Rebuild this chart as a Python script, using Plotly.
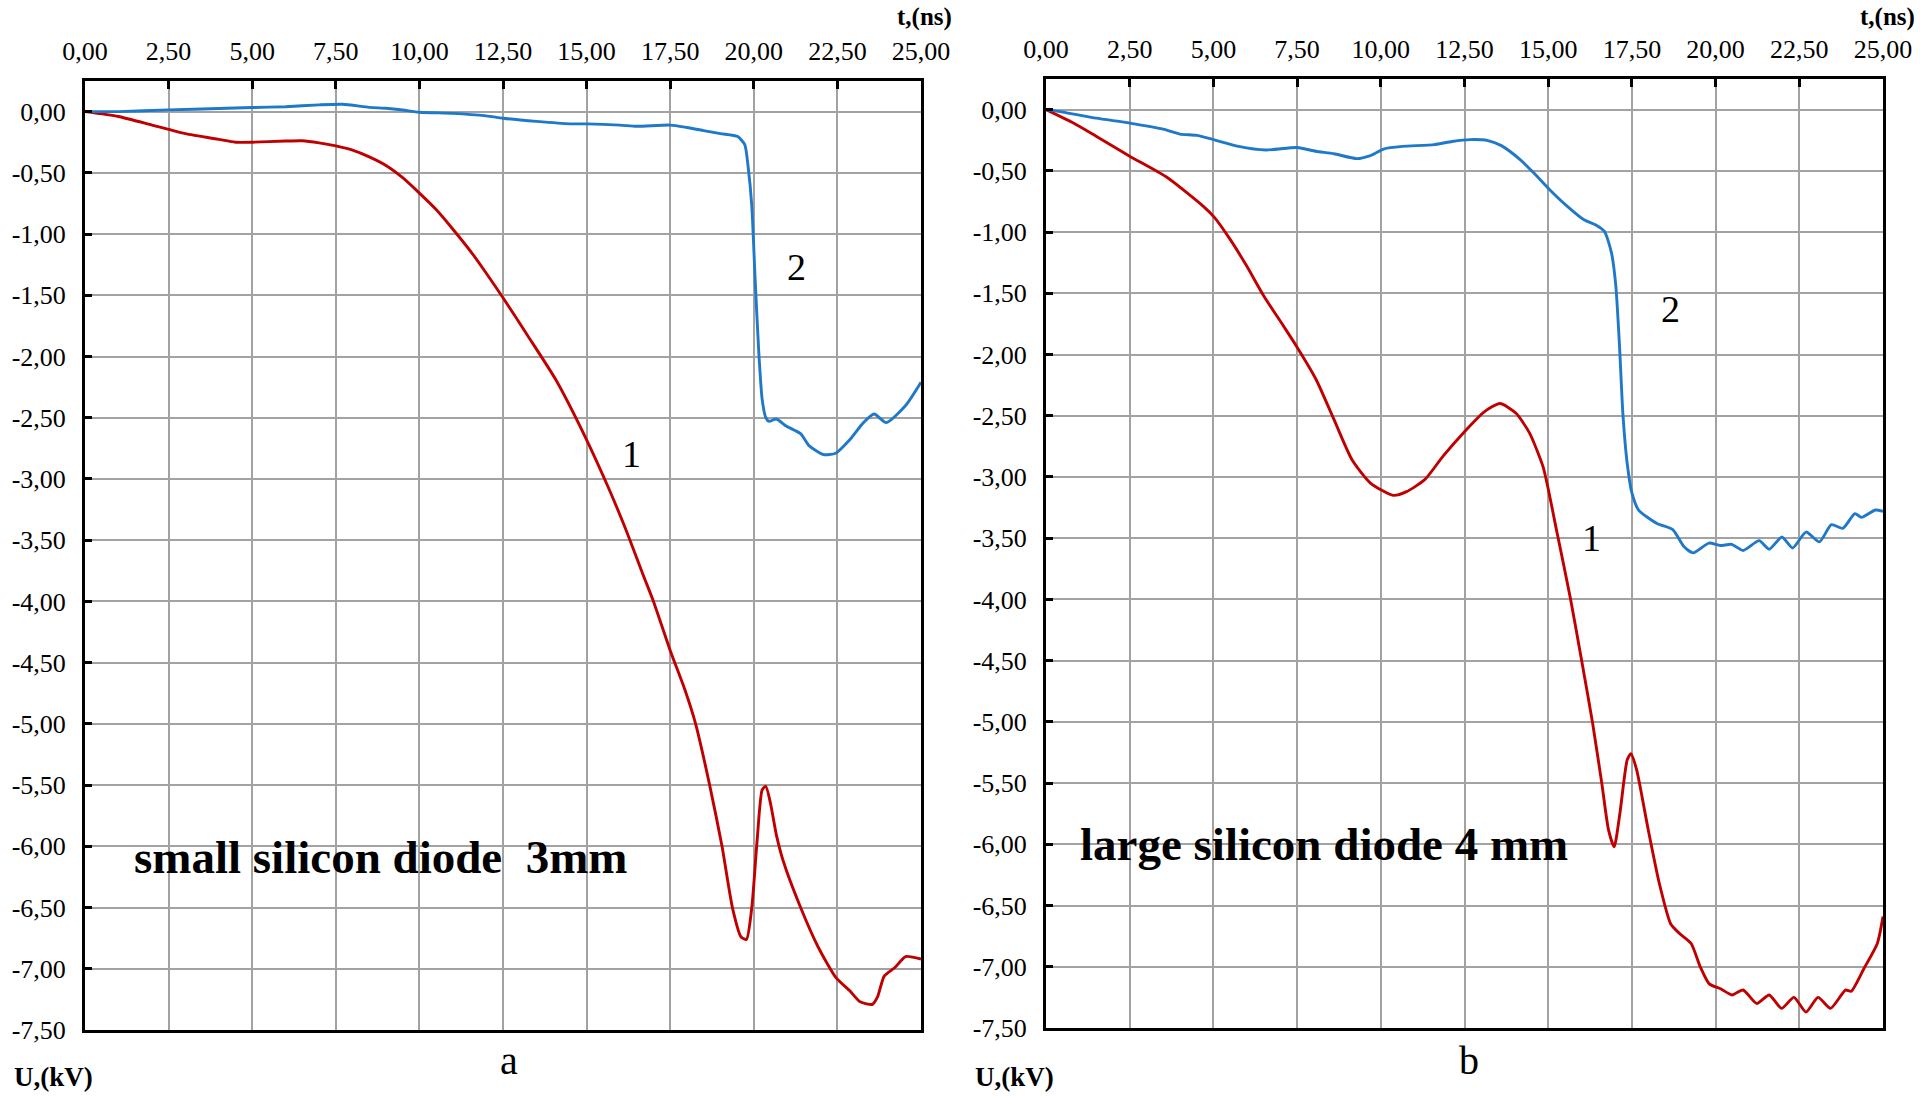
import plotly.graph_objects as go

# ---- time ticks (ns) and voltage ticks (kV) ----
t_ticks = [0, 2.5, 5, 7.5, 10, 12.5, 15, 17.5, 20, 22.5, 25]
t_labels = ["0,00", "2,50", "5,00", "7,50", "10,00", "12,50", "15,00",
            "17,50", "20,00", "22,50", "25,00"]
u_ticks = [0, -0.5, -1, -1.5, -2, -2.5, -3, -3.5, -4, -4.5, -5, -5.5,
           -6, -6.5, -7, -7.5]
u_labels = ["0,00", "-0,50", "-1,00", "-1,50", "-2,00", "-2,50", "-3,00",
            "-3,50", "-4,00", "-4,50", "-5,00", "-5,50", "-6,00", "-6,50",
            "-7,00", "-7,50"]

# ---- (a) small silicon diode 3 mm ----
t_a_1 = [0, 1, 2, 2.5, 3, 4, 4.5, 5, 6, 6.5, 7, 7.5, 8, 8.5, 9, 9.5, 10,
         10.5, 10.94, 11.57, 12, 12.5, 13.24, 14.08, 15, 15.65, 16.17, 16.7,
         17.0, 17.5, 17.95, 18.26, 18.68, 19.05, 19.36, 19.62, 19.78, 19.94,
         20.1, 20.25, 20.36, 20.5, 20.67, 20.88, 21.4, 21.92, 22.45, 22.87,
         23.18, 23.55, 23.7, 23.9, 24.22, 24.54, 25]
u_a_1 = [0, -0.04, -0.11, -0.145, -0.18, -0.227, -0.25, -0.25, -0.24,
         -0.238, -0.255, -0.28, -0.315, -0.37, -0.44, -0.54, -0.666, -0.80,
         -0.94, -1.155, -1.32, -1.52, -1.83, -2.19, -2.68, -3.07, -3.41,
         -3.79, -4.0, -4.4, -4.73, -5.0, -5.5, -6.0, -6.5, -6.74, -6.76,
         -6.5, -5.95, -5.54, -5.51, -5.65, -5.9, -6.12, -6.5, -6.82, -7.07,
         -7.18, -7.27, -7.29, -7.23, -7.06, -6.99, -6.9, -6.92]

t_a_2 = [0, 1, 2.5, 4, 5, 6, 7, 7.7, 8.5, 9, 9.5, 10, 11, 12, 12.5, 13.5,
         14.5, 15, 16, 16.5, 17.5, 18, 18.5, 19, 19.52, 19.73, 19.83, 19.94,
         20.04, 20.15, 20.25, 20.36, 20.46, 20.67, 20.98, 21.4, 21.66,
         22.08, 22.45, 22.87, 23.28, 23.6, 23.96, 24.54, 25]
u_a_2 = [0, 0, 0.014, 0.025, 0.033, 0.04, 0.055, 0.06, 0.035, 0.027,
         0.013, -0.005, -0.014, -0.035, -0.054, -0.08, -0.10, -0.10, -0.11,
         -0.12, -0.11, -0.13, -0.155, -0.18, -0.204, -0.27, -0.45, -0.77,
         -1.37, -1.97, -2.35, -2.5, -2.53, -2.51, -2.57, -2.63, -2.73, -2.80,
         -2.79, -2.68, -2.54, -2.47, -2.54, -2.40, -2.21]

# ---- (b) large silicon diode 4 mm ----
t_b_1 = [0, 0.82, 1.51, 2.5, 3.6, 4.7, 5.03, 5.5, 6.0, 6.5, 7.1, 7.5, 8.06,
         8.6, 9.14, 9.69, 10.37, 10.77, 11.32, 11.86, 12.5, 13.08, 13.56,
         14.04, 14.44, 14.85, 15.26, 15.67, 16.0, 16.32, 16.6, 16.8, 16.97,
         17.14, 17.36, 17.47, 17.64, 17.98, 18.32, 18.66, 18.93, 19.27,
         19.54, 19.81, 20.15, 20.49, 20.82, 21.23, 21.6, 21.97, 22.34, 22.7,
         23.06, 23.43, 23.88, 24.05, 24.42, 24.83, 25]
u_b_1 = [0, -0.11, -0.22, -0.38, -0.55, -0.79, -0.88, -1.06, -1.28, -1.52,
         -1.77, -1.94, -2.2, -2.53, -2.86, -3.05, -3.15, -3.12, -3.02, -2.83,
         -2.63, -2.47, -2.40, -2.48, -2.64, -2.92, -3.45, -4.0, -4.5, -5.0,
         -5.5, -5.88, -6.02, -5.75, -5.31, -5.26, -5.39, -5.87, -6.32, -6.65,
         -6.73, -6.81, -7.0, -7.14, -7.18, -7.23, -7.19, -7.30, -7.23, -7.34,
         -7.25, -7.37, -7.25, -7.34, -7.19, -7.20, -7.02, -6.81, -6.59]

t_b_2 = [0, 0.5, 1.5, 2.5, 3.5, 4, 4.5, 5, 5.75, 6.56, 7.5, 8.06, 8.6, 9.28,
         9.69, 10.1, 10.64, 11.6, 12.13, 12.67, 13.2, 13.6, 14.17, 14.58,
         15.03, 15.53, 16.07, 16.41, 16.68, 16.89, 17.02, 17.13, 17.23,
         17.36, 17.5, 17.7, 18.25, 18.72, 19.06, 19.33, 19.8, 20.14, 20.48,
         20.82, 21.3, 21.6, 21.98, 22.3, 22.7, 23.1, 23.46, 23.8, 24.16,
         24.36, 24.77, 25]
u_b_2 = [0, -0.02, -0.07, -0.11, -0.16, -0.20, -0.21, -0.245, -0.30, -0.33,
         -0.31, -0.34, -0.36, -0.40, -0.375, -0.32, -0.30, -0.286, -0.26,
         -0.245, -0.253, -0.294, -0.41, -0.52, -0.65, -0.78, -0.90, -0.94,
         -0.995, -1.17, -1.44, -1.93, -2.48, -2.89, -3.13, -3.27, -3.38,
         -3.43, -3.57, -3.62, -3.54, -3.56, -3.55, -3.60, -3.52, -3.59,
         -3.49, -3.58, -3.45, -3.53, -3.39, -3.42, -3.30, -3.33, -3.27, -3.28]

RED = "#C00000"
BLUE = "#1F78C8"
SERIF = "Liberation Serif, Times New Roman, serif"
W, H = 1920, 1096

fig = go.Figure()


def curve(t, u, color, xa, ya):
    fig.add_trace(go.Scatter(
        x=t, y=u, mode="lines", xaxis=xa, yaxis=ya, showlegend=False,
        line=dict(color=color, width=2.9, shape="spline", smoothing=0.6),
        hoverinfo="skip"))


curve(t_a_1, u_a_1, RED, "x", "y")
curve(t_a_2, u_a_2, BLUE, "x", "y")
curve(t_b_1, u_b_1, RED, "x2", "y2")
curve(t_b_2, u_b_2, BLUE, "x2", "y2")


def xaxis(domain, anchor):
    return dict(domain=domain, anchor=anchor, side="top", range=[0, 25],
                tickvals=t_ticks, ticktext=t_labels,
                tickfont=dict(family=SERIF, size=26, color="black"),
                ticks="inside", ticklen=8, tickwidth=3, tickcolor="black",
                ticklabelstandoff=8, automargin=False,
                showline=True, linecolor="black", linewidth=3, mirror=True,
                showgrid=True, gridcolor="#A2A2A2", gridwidth=1.6,
                zeroline=False, fixedrange=True)


def yaxis(domain, anchor):
    return dict(domain=domain, anchor=anchor, side="left",
                range=[-7.5, 0.25],
                tickvals=u_ticks, ticktext=u_labels,
                tickfont=dict(family=SERIF, size=26, color="black"),
                ticks="inside", ticklen=7, tickwidth=3, tickcolor="black",
                ticklabelstandoff=11, automargin=False,
                showline=True, linecolor="black", linewidth=3, mirror=True,
                showgrid=True, gridcolor="#A2A2A2", gridwidth=1.6,
                zeroline=False, fixedrange=True)


ann = []


def paper_text(text, x, y, size, bold=False, xanchor="center"):
    ann.append(dict(
        text=f"<b>{text}</b>" if bold else text,
        x=x / W, y=1 - y / H, xref="paper", yref="paper",
        xanchor=xanchor, yanchor="middle", showarrow=False,
        font=dict(family=SERIF, size=size, color="black")))


def data_text(text, x, y, xr, yr, size, bold=False):
    ann.append(dict(
        text=f"<b>{text}</b>" if bold else text,
        x=x, y=y, xref=xr, yref=yr, showarrow=False,
        xanchor="center", yanchor="middle",
        font=dict(family=SERIF, size=size, color="black")))


# axis titles
paper_text("t,(ns)", 954, 17, 25, bold=True, xanchor="right")
paper_text("t,(ns)", 1917, 17, 25, bold=True, xanchor="right")
paper_text("U,(kV)", 12, 1077, 27, bold=True, xanchor="left")
paper_text("U,(kV)", 973, 1077, 27, bold=True, xanchor="left")

# panel letters
paper_text("a", 509, 1060, 40)
paper_text("b", 1469, 1060, 40)

# diode captions
data_text("small silicon diode&nbsp;&nbsp;3mm", 8.85, -6.09, "x", "y", 47,
          bold=True)
data_text("large silicon diode 4 mm", 8.3, -6.0, "x2", "y2", 47,
          bold=True)

# curve numbers
data_text("1", 16.33, -2.80, "x", "y", 38)
data_text("2", 21.27, -1.27, "x", "y", 38)
data_text("1", 16.28, -3.50, "x2", "y2", 38)
data_text("2", 18.65, -1.63, "x2", "y2", 38)

fig.update_layout(
    width=W, height=H, autosize=False,
    margin=dict(l=0, r=0, t=0, b=0, pad=0),
    paper_bgcolor="white", plot_bgcolor="white",
    xaxis=xaxis([85 / W, 921 / W], "y"),
    yaxis=yaxis([1 - 1030 / H, 1 - 81 / H], "x"),
    xaxis2=xaxis([1046 / W, 1883 / W], "y2"),
    yaxis2=yaxis([1 - 1028 / H, 1 - 79 / H], "x2"),
    annotations=ann,
    showlegend=False,
)

fig.write_html("out.html", config={"displayModeBar": False})
